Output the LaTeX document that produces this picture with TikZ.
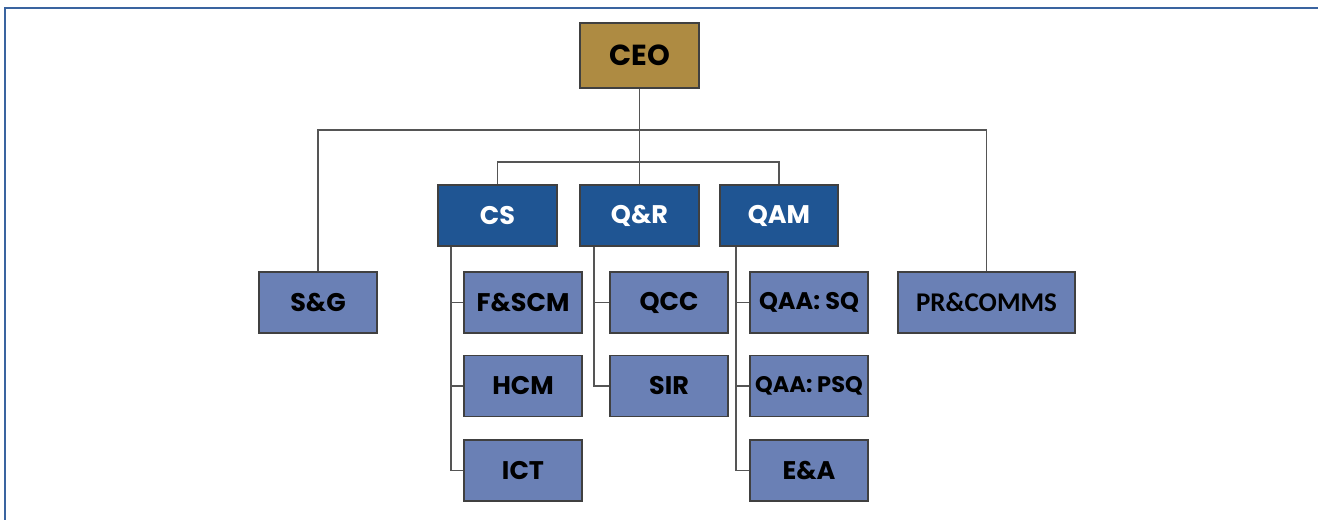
\documentclass[tikz,border=0pt]{standalone}
\usepackage{fontspec}
\newfontfamily\gothic{Poppins}
\newfontfamily\calib{Carlito}
\definecolor{ceogold}{HTML}{AE8B42}
\definecolor{darkblue}{HTML}{1F5593}
\definecolor{lightblue}{HTML}{6A80B5}
\definecolor{boxedge}{HTML}{404040}
\definecolor{linegray}{HTML}{555555}
\definecolor{frameblue}{HTML}{3A64A0}
\tikzset{
  base/.style={draw=boxedge, line width=1.6pt, inner sep=0pt, minimum height=61pt, font=\gothic\bfseries\fontsize{25.5}{28}\selectfont},
  ceobox/.style={base, fill=ceogold, minimum width=119pt, minimum height=65pt, font=\gothic\bfseries\fontsize{29}{32}\selectfont},
  headbox/.style={base, fill=darkblue, text=white, minimum width=119pt},
  unitbox/.style={base, fill=lightblue, text=black, minimum width=118pt},
  conn/.style={draw=linegray, line width=1.7pt},
}
\begin{document}
\begin{tikzpicture}[x=1pt,y=-1pt]
\useasboundingbox (0,0) rectangle (1318,520);
\draw[frameblue, line width=1.6pt] (1318,8) -- (5,8) -- (5,520);
% nodes
\node[ceobox] (CEO) at (639.5,55.5) {CEO};
\node[headbox] (CS) at (497.5,215.5) {CS};
\node[headbox] (QR) at (639.5,215.5) {Q\&R};
\node[headbox, minimum width=118pt] (QAM) at (779,215.5) {QAM};
\node[unitbox] (SG) at (318,302.5) {S\&G};
\node[unitbox, minimum width=177pt, font=\calib\bfseries\fontsize{27}{30}\selectfont] (PR) at (986.5,302.5) {PR\&COMMS};
\node[unitbox] (FSCM) at (523,302.5) {F\&SCM};
\node[unitbox] (HCM) at (523,386) {HCM};
\node[unitbox] (ICT) at (523,470.5) {ICT};
\node[unitbox] (QCC) at (669,302.5) {QCC};
\node[unitbox] (SIR) at (669,386) {SIR};
\node[unitbox, font=\gothic\bfseries\fontsize{24}{27}\selectfont] (QAASQ) at (809,302.5) {QAA: SQ};
\node[unitbox, font=\gothic\bfseries\fontsize{22.5}{25}\selectfont] (QAAPSQ) at (809,386) {QAA: PSQ};
\node[unitbox] (EA) at (809,470.5) {E\&A};
% buses
\coordinate (bus1) at (639.5,130);
\coordinate (bus2) at (639.5,162);
\draw[conn] (CEO.south) -- (QR.north);
\draw[conn] (SG.north) |- (bus1) -| (PR.north);
\draw[conn] (CS.north) |- (bus2) -| (QAM.north);
\draw[conn] ([xshift=14pt]CS.south west) |- (FSCM.west);
\draw[conn] ([xshift=14pt]CS.south west) |- (HCM.west);
\draw[conn] ([xshift=14pt]CS.south west) |- (ICT.west);
\draw[conn] ([xshift=15pt]QR.south west) |- (QCC.west);
\draw[conn] ([xshift=15pt]QR.south west) |- (SIR.west);
\draw[conn] ([xshift=17pt]QAM.south west) |- (QAASQ.west);
\draw[conn] ([xshift=17pt]QAM.south west) |- (QAAPSQ.west);
\draw[conn] ([xshift=17pt]QAM.south west) |- (EA.west);
\end{tikzpicture}
\end{document}
